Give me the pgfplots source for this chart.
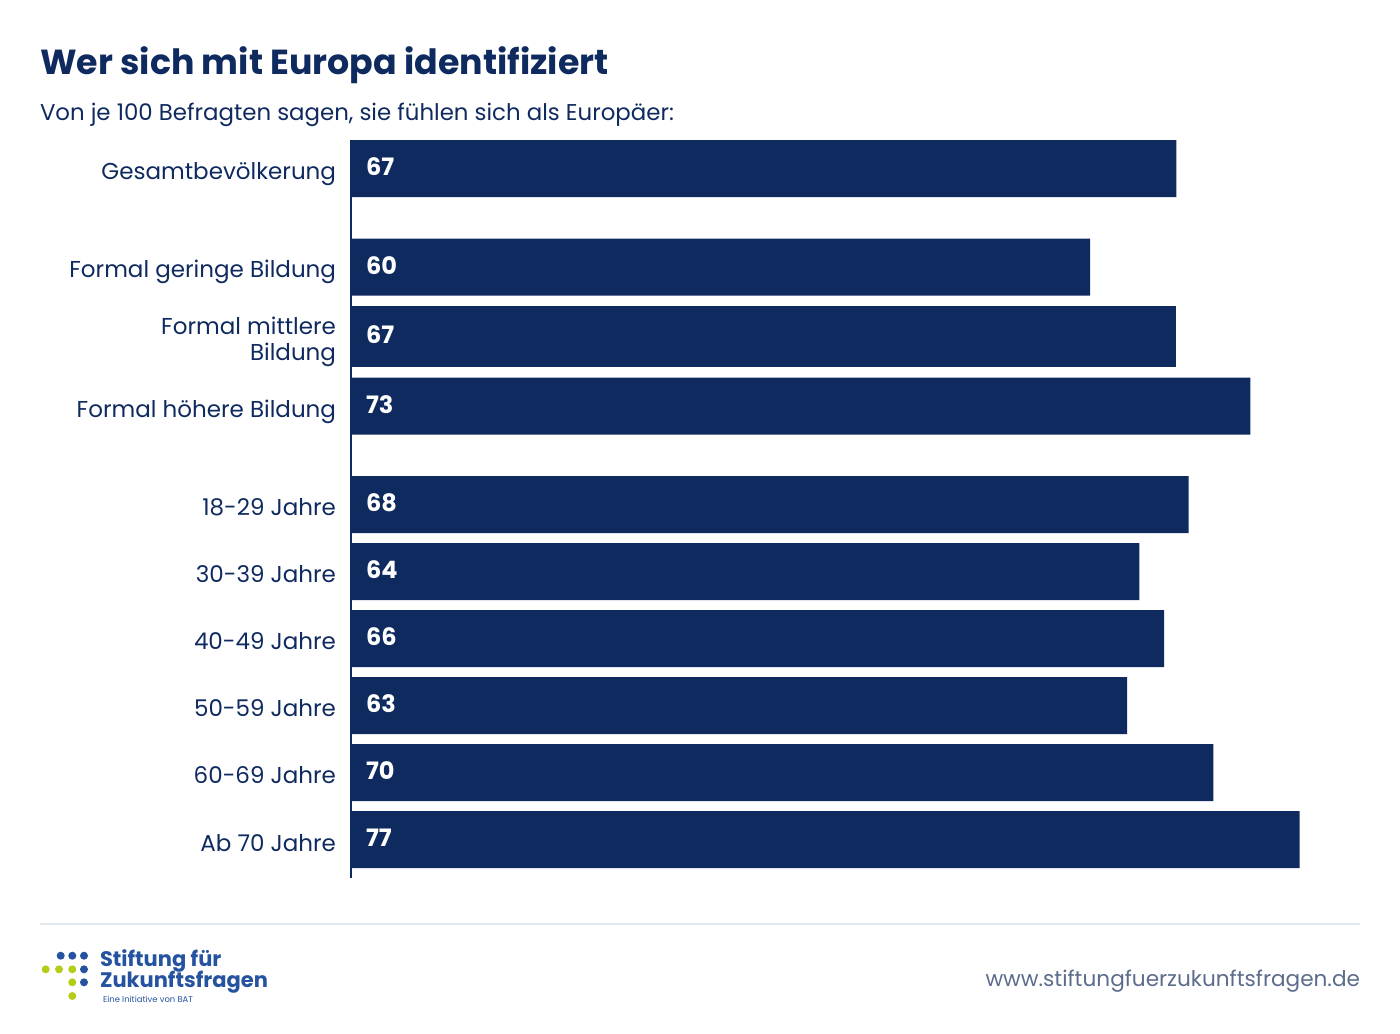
\documentclass[border=0pt]{standalone}
\usepackage{pgfplots}
\pgfplotsset{compat=1.18}
\usepackage{fontspec}
\setmainfont{Poppins}
\definecolor{navy}{HTML}{0F2A5F}
\definecolor{urlgray}{HTML}{5C6C8C}
\definecolor{rulegray}{HTML}{E3E7EF}
\definecolor{logoblue}{HTML}{2553A0}
\definecolor{logogreen}{HTML}{B5CC18}
\begin{document}
\begin{tikzpicture}
\begin{scope}[x=0.5pt,y=-0.5pt]
\path[use as bounding box] (0,0) rectangle (1400,1033);
\end{scope}
\begin{axis}[at={(0,0)}, anchor=north west, scale only axis,
  width=700pt, height=516.5pt,
  xmin=-28.49, xmax=85.15, ymin=0, ymax=1033, y dir=reverse,
  hide axis, clip=false]
\addplot[xbar, bar width=57, fill=navy, draw=none] table {
v y
67 168.5
60 267
73 406
68 504.5
64 571.5
66 638.5
63 705.5
70 772.5
77 839.5
};
\addplot[xbar, bar width=61, fill=navy, draw=none] table {
v y
67 336.2
};
\draw[navy, line width=1.1pt] (axis cs:0,140) -- (axis cs:0,878);
\end{axis}
\begin{scope}[x=0.5pt,y=-0.5pt, every node/.style={inner sep=0pt, outer sep=0pt}]
\node[anchor=base west, text=navy, font=\fontsize{17.4}{20}\selectfont\bfseries] at (40,74) {Wer sich mit Europa identifiziert};
\node[anchor=base west, text=navy, font=\fontsize{11.43}{14}\selectfont] at (40,120) {Von je 100 Befragten sagen, sie fühlen sich als Europäer:};
\begin{scope}[every node/.append style={anchor=base east, text=navy, font=\fontsize{11.5}{14}\selectfont}]
\node at (336,179) {Gesamtbevölkerung};
\node at (336,277) {Formal geringe Bildung};
\node at (336,334) {Formal mittlere};
\node at (336,360) {Bildung};
\node at (336,417) {Formal höhere Bildung};
\node at (336,515) {18-29 Jahre};
\node at (336,582) {30-39 Jahre};
\node at (336,649) {40-49 Jahre};
\node at (336,716) {50-59 Jahre};
\node at (336,783) {60-69 Jahre};
\node at (336,851) {Ab 70 Jahre};
\end{scope}
\begin{scope}[every node/.append style={anchor=base west, text=white, font=\fontsize{12}{14}\selectfont\bfseries}]
\node at (366,175) {67};
\node at (366,274) {60};
\node at (366,343) {67};
\node at (366,413) {73};
\node at (366,511) {68};
\node at (366,578) {64};
\node at (366,645) {66};
\node at (366,712) {63};
\node at (366,779) {70};
\node at (366,846) {77};
\end{scope}
\draw[rulegray, line width=1pt] (40,924) -- (1360,924);
\node[anchor=base east, text=urlgray, font=\fontsize{10.8}{12}\selectfont] at (1360,986) {www.stiftungfuerzukunftsfragen.de};
\foreach \p in {(60.7,955.7),(72.3,955.7),(84,955.7),(84,969.3),(84,982.3)} \fill[logoblue] \p circle (4);
\foreach \p in {(45.7,969.3),(59,969.3),(72.3,969.3),(72.3,982.3),(72.3,996)} \fill[logogreen] \p circle (4);
\node[anchor=base west, text=logoblue, font=\fontsize{10.5}{12}\selectfont\bfseries] at (100,966) {Stiftung für};
\node[anchor=base west, text=logoblue, font=\fontsize{10.5}{12}\selectfont\bfseries] at (100,987) {Zukunftsfragen};
\node[anchor=base west, text=logoblue, font=\fontsize{4.2}{5}\selectfont] at (103,1002) {Eine Initiative von BAT};
\end{scope}
\end{tikzpicture}
\end{document}
